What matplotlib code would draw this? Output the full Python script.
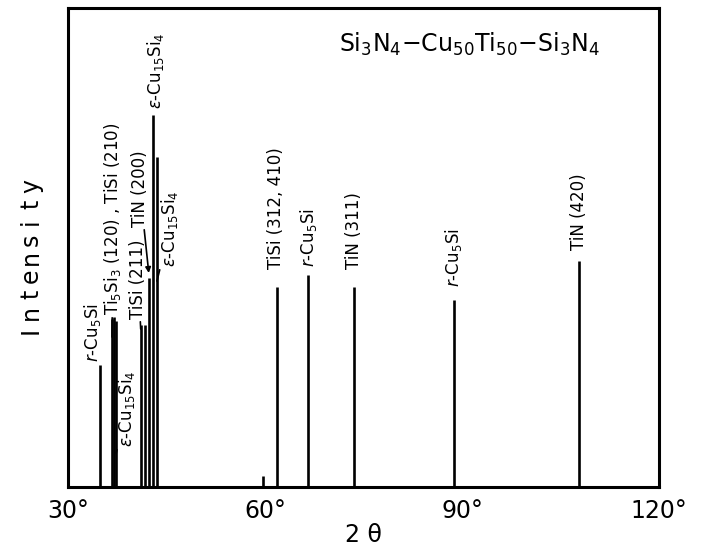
import matplotlib.pyplot as plt

plt.rcParams['font.family'] = ['DejaVu Sans']
plt.rcParams['mathtext.fontset'] = 'dejavusans'

# peak positions (2 theta, degrees) and heights (arbitrary units)
two_theta = [34.9, 36.7, 37.05, 37.35, 41.07, 41.7, 42.4, 42.9, 43.55,
             59.65, 61.78, 66.59, 73.6, 88.77, 107.8]
intensity = [122, 168, 170, 166, 162, 162, 209, 372, 330,
             11, 200, 212, 200, 187, 226]

xticks = [30, 60, 90, 120]
xtick_labels = ['30°', '60°', '90°', '120°']

# labels: text, text position (x, y), peak pointed at (x, y) or None, arrow head
labels = [
    (r'$r$-Cu$_5$Si', (33.7, 125), None, False),
    (r'Ti$_5$Si$_3$ (120) , TiSi (210)', (36.85, 172), (36.7, 150), False),
    (r'$\epsilon$-Cu$_{15}$Si$_4$', (38.85, 40), (37.35, 34), False),
    (r'TiSi (211)', (40.7, 168), (41.07, 158), False),
    (r'TiN (200)', (40.95, 260), (42.3, 214), True),
    (r'$\epsilon$-Cu$_{15}$Si$_4$', (43.3, 378), None, False),
    (r'$\epsilon$-Cu$_{15}$Si$_4$', (45.5, 220), (43.55, 206), False),
    (r'TiSi (312, 410)', (61.75, 218), None, False),
    (r'$r$-Cu$_5$Si', (66.55, 220), None, False),
    (r'TiN (311)', (73.6, 218), None, False),
    (r'$r$-Cu$_5$Si', (88.7, 200), None, False),
    (r'TiN (420)', (107.8, 237), None, False),
]

fig = plt.figure(figsize=(7.01, 5.5), dpi=100)
ax = fig.add_axes([68 / 701, 63 / 550, 591 / 701, 479 / 550])

ax.vlines(two_theta, 0, intensity, colors='black', linewidth=1.9)

for text, (tx, ty), target, head in labels:
    if target is None:
        ax.text(tx, ty, text, rotation=90, ha='center', va='bottom', fontsize=12)
    else:
        ax.annotate(text, xy=target, xytext=(tx, ty), rotation=90,
                    ha='center', va='bottom', fontsize=12,
                    arrowprops=dict(arrowstyle='-|>' if head else '-',
                                    color='black', lw=1.2,
                                    shrinkA=0, shrinkB=0,
                                    mutation_scale=8))

ax.text(0.90, 0.923, r'Si$_3$N$_4$$-$Cu$_{50}$Ti$_{50}$$-$Si$_3$N$_4$',
        transform=ax.transAxes, ha='right', va='center', fontsize=17)

ax.set_xlim(30, 120)
ax.set_ylim(0, 479)
ax.set_xticks(xticks)
ax.set_xticklabels(xtick_labels, fontsize=17)
ax.tick_params(axis='x', length=0, pad=9)
ax.set_yticks([])
for sp in ax.spines.values():
    sp.set_linewidth(2.2)

ax.set_xlabel('2 θ', fontsize=17, labelpad=0)

# spaced-out y label, written letter by letter
ylabel = 'Intensity'
step = 18 / 550
for i, ch in enumerate(ylabel):
    fig.text(31 / 701, (550 - 330) / 550 + i * step,
             ch, rotation=90, ha='center', va='center', fontsize=17)

fig.savefig('out.png', dpi=100)
